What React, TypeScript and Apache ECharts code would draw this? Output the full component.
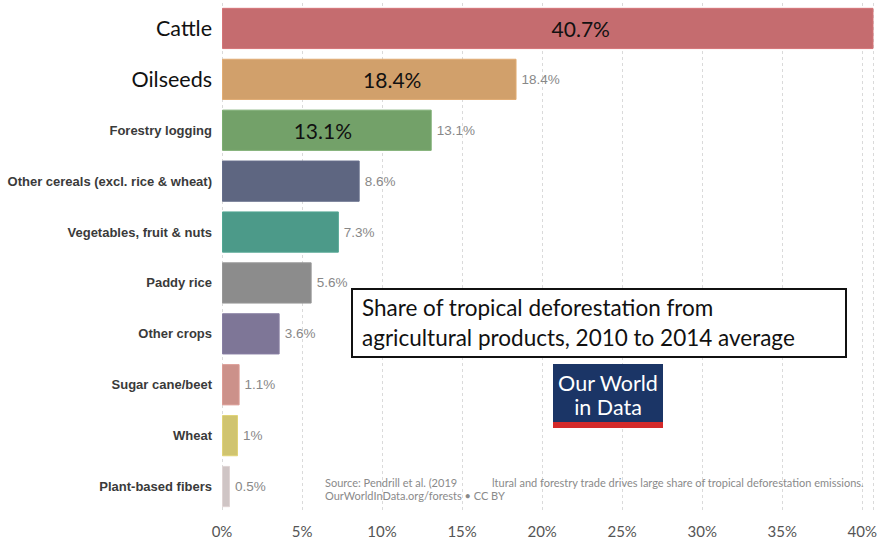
import React, { useEffect, useRef } from "react";
import * as echarts from "echarts";

const categories = [
  "Cattle",
  "Oilseeds",
  "Forestry logging",
  "Other cereals (excl. rice & wheat)",
  "Vegetables, fruit & nuts",
  "Paddy rice",
  "Other crops",
  "Sugar cane/beet",
  "Wheat",
  "Plant-based fibers",
];
const values = [40.7, 18.4, 13.1, 8.6, 7.3, 5.6, 3.6, 1.1, 1, 0.5];
const colors = [
  "#c56c6f",
  "#d1a06b",
  "#73a169",
  "#5e6681",
  "#4c9a89",
  "#8c8c8c",
  "#7e7697",
  "#cc918a",
  "#d0c46f",
  "#cfc5c5",
];
const bigCategories = ["Cattle", "Oilseeds"];
const insideLabelled = ["Cattle", "Oilseeds", "Forestry logging"];
const insideOffsets = [33, 23, -4];
const xTicks = [0, 5, 10, 15, 20, 25, 30, 35, 40];

export default function App() {
  const ref = useRef<HTMLDivElement>(null);
  useEffect(() => {
    if (!ref.current) return;
    const chart = echarts.init(ref.current, null, { renderer: "svg" });
    const mainData = values.map((v, i) => ({
      value: v,
      itemStyle: {
        color: colors[i],
        borderColor: echarts.color.lift(colors[i], -0.08),
        borderWidth: 1,
      },
      label: { show: i !== 0 },
    }));
    const overlayData = values.map((v, i) => {
      const idx = insideLabelled.indexOf(categories[i]);
      return {
        value: v,
        label:
          idx >= 0
            ? { show: true, offset: [insideOffsets[idx], 0] }
            : { show: false },
      };
    });
    const srcStyle = { fontSize: 11, fontFamily: "Lato", fill: "#8a8a8a" };
    chart.setOption({
      animation: false,
      grid: { left: 222, right: 6, top: 3, bottom: 33, containLabel: false },
      xAxis: {
        type: "value",
        min: 0,
        max: 40.7,
        interval: 5,
        axisLine: { show: false },
        axisTick: { show: false },
        splitLine: {
          show: true,
          lineStyle: { color: "#dadada", type: [3, 3], width: 1 },
        },
        axisLabel: {
          showMaxLabel: false,
          formatter: (v: number) => (xTicks.includes(v) ? `${v}%` : ""),
          color: "#555",
          fontSize: 15,
          fontFamily: "Lato",
          margin: 11,
        },
      },
      yAxis: {
        type: "category",
        data: categories,
        inverse: true,
        axisLine: { show: false },
        axisTick: { show: false },
        axisLabel: {
          margin: 10,
          formatter: (v: string) =>
            bigCategories.includes(v) ? `{big|${v}}` : `{small|${v}}`,
          rich: {
            big: {
              fontSize: 21.5,
              fontFamily: "Lato",
              color: "#111",
            },
            small: {
              fontSize: 13,
              fontWeight: "bold",
              fontFamily: "Liberation Sans",
              color: "#3a3a3a",
            },
          },
        },
      },
      series: [
        {
          type: "bar",
          data: mainData,
          barCategoryGap: "19%",
          label: {
            position: "right",
            distance: 5,
            color: "#888",
            fontSize: 13.5,
            fontFamily: "Liberation Sans",
            formatter: (p: any) => `${p.value}%`,
          },
        },
        {
          type: "bar",
          data: overlayData,
          barGap: "-100%",
          barCategoryGap: "19%",
          itemStyle: { color: "rgba(0,0,0,0)" },
          label: {
            position: "inside",
            color: "#111",
            fontSize: 21,
            fontFamily: "Lato",
            formatter: (p: any) => `${p.value}%`,
          },
          silent: true,
        },
      ],
      graphic: [
        {
          type: "rect",
          z: 100,
          shape: { x: 352, y: 289, width: 494, height: 68 },
          style: { fill: "#fff", stroke: "#111", lineWidth: 2 },
        },
        {
          type: "text",
          z: 101,
          x: 362,
          y: 292,
          style: {
            text: "Share of tropical deforestation from\nagricultural products, 2010 to 2014 average",
            fontSize: 22.5,
            lineHeight: 30,
            fontFamily: "Lato",
            fill: "#111",
          },
        },
        {
          type: "rect",
          z: 100,
          shape: { x: 553, y: 364, width: 110, height: 58 },
          style: { fill: "#1b3566" },
        },
        {
          type: "rect",
          z: 100,
          shape: { x: 553, y: 422, width: 110, height: 6 },
          style: { fill: "#d42a2a" },
        },
        {
          type: "text",
          z: 101,
          x: 608,
          y: 371,
          style: {
            text: "Our World\nin Data",
            fontSize: 21.5,
            lineHeight: 24,
            fontFamily: "Lato",
            fill: "#fff",
            align: "center",
          },
        },
        {
          type: "text",
          z: 101,
          x: 325,
          y: 477,
          style: { text: "Source: Pendrill et al. (2019", ...srcStyle },
        },
        {
          type: "text",
          z: 101,
          x: 492,
          y: 477,
          style: {
            text: "ltural and forestry trade drives large share of tropical deforestation emissions.",
            ...srcStyle,
          },
        },
        {
          type: "text",
          z: 101,
          x: 325,
          y: 490,
          style: { text: "OurWorldInData.org/forests • CC BY", ...srcStyle },
        },
      ],
    });
    return () => chart.dispose();
  }, []);
  return <div ref={ref} style={{ width: 880, height: 545, position: "absolute", left: 0, top: 0 }} />;
}
